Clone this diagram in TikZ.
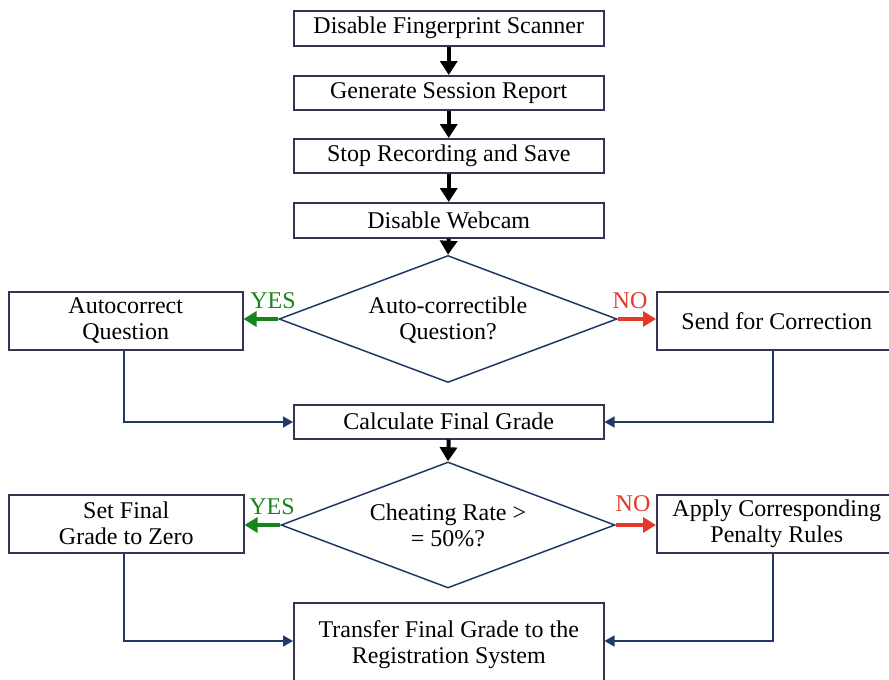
\documentclass[tikz,border=0pt]{standalone}
\usepackage{fontspec}
\setmainfont{Liberation Serif}
\usetikzlibrary{shapes.geometric,arrows.meta}
\definecolor{boxline}{HTML}{3B3154}
\definecolor{linkblue}{HTML}{1F3A66}
\definecolor{yesgreen}{HTML}{17851B}
\definecolor{nored}{HTML}{E2392A}
\begin{document}
\begin{tikzpicture}[x=1pt,y=-1pt,
  every node/.style={font=\fontsize{24}{26}\selectfont, inner sep=0pt},
  procbox/.style={draw=boxline, line width=1.5pt, fill=white, align=center, anchor=north west},
  decision/.style={diamond, draw=linkblue, line width=1.5pt, minimum width=338pt, minimum height=127pt},
  blackflow/.style={line width=4pt, -{Triangle[width=17pt,length=14pt]}},
  link/.style={draw=linkblue, line width=1.5pt, -{Triangle[width=11pt,length=10pt]}},
  yesflow/.style={draw=yesgreen, line width=4.5pt, -{Triangle[width=15pt,length=13pt]}},
  noflow/.style={draw=nored, line width=4.5pt, -{Triangle[width=15pt,length=13pt]}}]
\useasboundingbox (0,0) rectangle (889,680);
\clip (0,0) rectangle (889,680);

% main column of steps
\node[procbox, minimum width=310pt, minimum height=35pt] (scan) at (293,10) {Disable Fingerprint Scanner};
\node[procbox, minimum width=310pt, minimum height=34pt] (report) at (293,75) {Generate Session Report};
\node[procbox, minimum width=310pt, minimum height=34pt] (record) at (293,138) {Stop Recording and Save};
\node[procbox, minimum width=310pt, minimum height=35pt] (webcam) at (293,202) {Disable Webcam};

% first decision
\node[decision] (auto) at (448,319) {};
\node[align=center] (autotxt) at (448,320) {Auto-correctible\\Question?};
\node[procbox, minimum width=234pt, minimum height=58pt] (autoq) at (8,291) {Autocorrect\\Question};
\node[procbox, minimum width=240pt, minimum height=58pt] (send) at (656,291) {Send for Correction};

\node[procbox, minimum width=310pt, minimum height=34pt] (calc) at (293,404) {Calculate Final Grade};

% second decision
\node[decision, minimum width=334pt, minimum height=126pt] (cheat) at (448,525) {};
\node[align=center] (cheattxt) at (448,525) {Cheating Rate >\\= 50\%?};
\node[procbox, minimum width=235pt, minimum height=58pt] (zero) at (8,494) {Set Final\\Grade to Zero};
\node[procbox, minimum width=240pt, minimum height=58pt] (penalty) at (656,494) {Apply Corresponding\\Penalty Rules};

\node[procbox, minimum width=310pt, minimum height=84pt] (transfer) at (293,602) {Transfer Final Grade to the\\Registration System};

% branch labels
\node[text=yesgreen, anchor=south] (yes1) at (273,309) {YES};
\node[text=nored, anchor=south] (no1) at (630,309) {NO};
\node[text=yesgreen, anchor=south] (yes2) at (272,515) {YES};
\node[text=nored, anchor=south] (no2) at (633,512) {NO};

% connectors
\draw[blackflow] (scan.south) -- (report.north);
\draw[blackflow] (report.south) -- (record.north);
\draw[blackflow] (record.south) -- (webcam.north);
\draw[blackflow] (webcam.south) -- (auto.north);
\draw[blackflow] (calc.south) -- (cheat.north);

\draw[yesflow] (auto.west) -- (autoq.east |- auto.west);
\draw[noflow] (auto.east) -- (send.west |- auto.east);
\draw[yesflow] (cheat.west) -- (zero.east |- cheat.west);
\draw[noflow] (cheat.east) -- (penalty.west |- cheat.east);

\coordinate (autobend) at (124,422);
\coordinate (sendbend) at (773,422);
\coordinate (zerobend) at (124,641);
\coordinate (penbend) at (773,641);
\draw[link] (autoq.south -| autobend) -- (autobend) -- (calc.west |- autobend);
\draw[link] (send.south -| sendbend) -- (sendbend) -- (calc.east |- sendbend);
\draw[link] (zero.south -| zerobend) -- (zerobend) -- (transfer.west |- zerobend);
\draw[link] (penalty.south -| penbend) -- (penbend) -- (transfer.east |- penbend);
\end{tikzpicture}
\end{document}
